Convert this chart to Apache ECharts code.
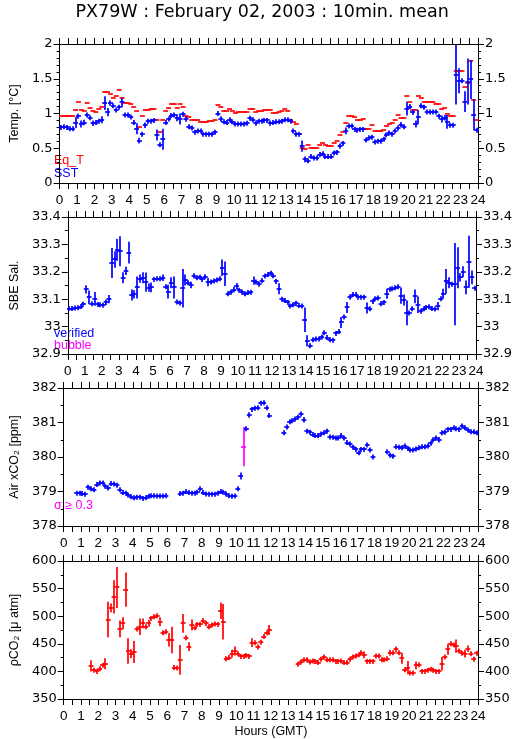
<!DOCTYPE html>
<html><head><meta charset="utf-8">
<script src="https://cdn.jsdelivr.net/npm/echarts/dist/echarts.min.js"></script>
<style>html,body{margin:0;padding:0;background:#fff}#c{width:515px;height:739px}</style>
</head><body><div id="c"></div>
<script>
// 10-minute bins, index k covers hours [k/6, (k+1)/6]
const hourLabels = ['0','1','2','3','4','5','6','7','8','9','10','11','12','13','14','15','16','17','18','19','20','21','22','23','24'];

const eqT = [
0.96,0.96,0.96,0.96,0.96,1.05,1.16,1.05,1.04,1.15,
1.08,1.03,1.02,1.07,1.10,1.31,1.31,1.28,1.22,1.25,
1.34,1.22,1.15,1.15,1.14,1.10,1.04,0.81,0.96,1.05,
1.05,1.06,1.06,0.90,0.74,0.90,1.04,1.08,1.14,1.13,
1.08,1.14,1.09,0.97,0.95,0.91,0.91,0.91,0.88,0.88,
0.88,0.89,0.89,0.90,1.12,1.10,1.03,1.03,1.06,1.04,
1.01,1.02,1.02,1.02,1.02,1.07,1.07,1.02,1.03,1.04,
1.05,1.05,1.05,1.01,1.01,1.02,1.04,1.06,1.04,0.91,
0.88,0.85,0.70,0.51,0.49,0.54,0.51,0.51,0.51,0.54,
0.58,0.55,0.53,0.53,0.57,0.60,0.69,0.73,0.86,0.96,
0.96,0.95,0.91,0.91,0.92,0.78,0.78,0.83,0.75,0.75,
0.75,0.76,0.82,0.85,0.86,0.91,0.98,0.94,0.94,1.25,
1.17,1.05,1.05,1.25,1.23,1.17,1.16,1.17,1.17,1.13,
1.13,1.07,1.08,1.00,0.96,0.96,1.61,1.61,1.61,1.38,
1.44,1.75,1.20,0.91];

const sst = [
0.80,0.81,0.80,0.78,0.78,0.87,0.96,0.85,0.87,0.98,
0.94,0.86,0.87,0.89,0.91,1.15,1.02,1.15,1.11,1.05,
1.09,1.16,0.98,0.98,0.95,0.87,0.78,0.61,0.70,0.83,
0.89,0.89,0.90,0.69,0.55,0.63,0.87,0.92,0.97,0.98,
0.94,0.92,0.99,0.92,0.81,0.79,0.73,0.75,0.75,0.70,
0.70,0.70,0.70,0.73,1.00,0.92,0.88,0.87,0.91,0.88,
0.85,0.85,0.85,0.85,0.86,0.93,0.91,0.86,0.89,0.89,
0.90,0.90,0.86,0.87,0.88,0.88,0.89,0.91,0.91,0.89,
0.75,0.70,0.70,0.53,0.34,0.32,0.38,0.36,0.36,0.41,
0.42,0.38,0.38,0.38,0.43,0.44,0.53,0.57,0.75,0.82,
0.82,0.77,0.76,0.77,0.77,0.62,0.65,0.66,0.59,0.60,
0.60,0.63,0.69,0.72,0.70,0.75,0.79,0.84,0.81,1.07,
1.10,1.02,0.85,0.95,1.11,1.09,1.02,1.02,1.02,1.02,
0.96,0.92,0.94,0.88,0.83,0.83,1.56,1.47,1.47,1.17,
1.46,1.49,0.98,0.76];

const sstSd = [
0.005,0.005,0.005,0.005,0.005,0.08,0.01,0.05,0.04,0.01,
0.01,0.04,0.01,0.01,0.05,0.10,0.06,0.04,0.03,0.01,
0.03,0.07,0.01,0.01,0.01,0.01,0.08,0.04,0.01,0.04,
0.01,0.01,0.01,0.08,0.03,0.15,0.01,0.01,0.01,0.01,
0.05,0.08,0.01,0.04,0.01,0.01,0.01,0.01,0.01,0.01,
0.005,0.005,0.005,0.03,0.03,0.04,0.01,0.01,0.01,0.01,
0.005,0.005,0.005,0.005,0.01,0.01,0.01,0.03,0.01,0.01,
0.01,0.01,0.01,0.01,0.01,0.01,0.01,0.01,0.01,0.03,
0.03,0.02,0.01,0.08,0.04,0.01,0.01,0.01,0.01,0.02,
0.02,0.01,0.005,0.005,0.01,0.01,0.03,0.03,0.05,0.01,
0.01,0.01,0.01,0.01,0.03,0.02,0.01,0.03,0.01,0.01,
0.01,0.01,0.02,0.02,0.01,0.01,0.02,0.01,0.01,0.10,
0.03,0.04,0.05,0.10,0.03,0.01,0.01,0.01,0.01,0.01,
0.03,0.05,0.04,0.10,0.01,0.01,0.43,0.18,0.02,0.15,
0.33,0.28,0.22,0.02];

const sal = [
33.066,33.066,33.068,33.069,33.073,33.082,33.136,33.107,33.083,33.101,
33.081,33.080,33.078,33.089,33.100,33.232,33.245,33.280,33.275,33.178,
33.203,33.270,33.115,33.118,33.143,33.175,33.178,33.162,33.142,33.143,
33.172,33.175,33.175,33.178,33.145,33.128,33.160,33.143,33.090,33.086,
33.140,33.170,33.160,33.152,33.186,33.178,33.180,33.172,33.182,33.162,
33.163,33.166,33.170,33.175,33.215,33.193,33.120,33.125,33.135,33.147,
33.133,33.125,33.120,33.124,33.125,33.168,33.163,33.155,33.168,33.185,
33.190,33.195,33.186,33.165,33.138,33.100,33.095,33.088,33.075,33.080,
33.085,33.077,33.075,33.025,32.948,32.930,32.952,32.955,32.955,32.962,
32.978,32.960,32.952,32.950,32.975,32.982,33.015,33.035,33.070,33.108,
33.117,33.117,33.107,33.107,33.107,33.068,33.065,33.092,33.102,33.104,
33.083,33.088,33.120,33.136,33.138,33.142,33.145,33.113,33.097,33.050,
33.050,33.065,33.110,33.080,33.056,33.065,33.070,33.072,33.066,33.064,
33.075,33.102,33.120,33.165,33.160,33.155,33.155,33.215,33.180,33.200,
33.143,33.237,33.180,33.140];

const salSd = [
0.003,0.003,0.003,0.003,0.003,0.005,0.015,0.025,0.004,0.025,
0.004,0.004,0.004,0.010,0.015,0.055,0.030,0.040,0.055,0.020,
0.015,0.040,0.020,0.015,0.040,0.015,0.020,0.035,0.015,0.018,
0.004,0.004,0.004,0.012,0.004,0.025,0.020,0.040,0.004,0.004,
0.070,0.020,0.004,0.012,0.004,0.004,0.004,0.004,0.004,0.015,
0.004,0.004,0.004,0.004,0.030,0.045,0.004,0.004,0.010,0.012,
0.004,0.004,0.004,0.004,0.004,0.015,0.004,0.004,0.004,0.004,
0.004,0.004,0.004,0.004,0.020,0.004,0.004,0.004,0.004,0.004,
0.004,0.004,0.004,0.045,0.020,0.004,0.004,0.004,0.004,0.004,
0.004,0.004,0.004,0.004,0.004,0.004,0.020,0.004,0.020,0.004,
0.004,0.004,0.004,0.004,0.004,0.020,0.004,0.004,0.004,0.004,
0.004,0.004,0.018,0.004,0.004,0.004,0.004,0.030,0.020,0.045,
0.004,0.004,0.025,0.030,0.004,0.004,0.004,0.004,0.004,0.004,
0.015,0.004,0.018,0.045,0.020,0.004,0.150,0.075,0.015,0.020,
0.025,0.095,0.025,0.004];

const xco2 = [
null,null,null,null,378.95,378.95,378.94,378.92,379.12,379.08,
379.05,379.20,379.25,379.25,379.15,379.10,379.23,379.22,379.18,379.05,
378.97,378.95,378.90,378.85,378.82,378.83,378.83,378.80,378.82,378.86,
378.88,378.88,378.87,378.87,378.87,378.88,null,null,null,null,
378.94,378.95,379.00,378.97,378.95,378.95,378.98,379.08,378.97,378.93,
378.92,378.92,378.92,378.95,379.00,378.98,378.93,378.88,378.86,378.87,
379.08,379.45,380.30,380.82,381.22,381.38,381.41,381.43,381.56,381.57,
381.43,381.20,null,null,null,null,380.70,380.87,381.02,381.05,
381.10,381.15,381.25,381.08,380.75,380.72,380.65,380.62,380.62,380.67,
380.70,380.75,380.58,380.57,380.55,380.55,380.62,380.55,380.42,380.38,
380.28,380.22,380.12,380.22,380.22,380.35,380.20,380.00,null,null,
null,null,380.15,380.05,380.02,380.30,380.28,380.27,380.32,380.25,
380.20,380.20,380.23,380.27,380.30,380.30,380.32,380.40,380.50,380.55,
380.50,380.70,380.72,380.80,380.80,380.85,380.82,380.80,380.90,380.85,
380.78,380.73,380.73,380.70];

const xco2Sd = [
0,0,0,0,0.015,0.015,0.015,0.015,0.04,0.015,
0.015,0.03,0.015,0.015,0.04,0.015,0.03,0.015,0.015,0.03,
0.015,0.015,0.015,0.015,0.015,0.015,0.015,0.03,0.015,0.015,
0.015,0.015,0.015,0.015,0.015,0.015,0,0,0,0,
0.015,0.015,0.03,0.015,0.015,0.015,0.015,0.04,0.015,0.015,
0.015,0.015,0.015,0.015,0.03,0.015,0.015,0.015,0.015,0.015,
0.06,0.10,0.57,0.07,0.08,0.015,0.015,0.015,0.015,0.015,
0.015,0.07,0,0,0,0,0.015,0.05,0.015,0.015,
0.015,0.015,0.015,0.08,0.015,0.015,0.015,0.015,0.05,0.015,
0.05,0.015,0.015,0.015,0.015,0.015,0.04,0.015,0.015,0.05,
0.015,0.015,0.015,0.07,0.05,0.04,0.06,0.015,0,0,
0,0,0.015,0.015,0.015,0.07,0.015,0.015,0.015,0.03,
0.015,0.015,0.015,0.015,0.015,0.015,0.015,0.015,0.015,0.06,
0.08,0.015,0.015,0.015,0.015,0.015,0.015,0.015,0.05,0.015,
0.015,0.015,0.015,0.015];

const pco2 = [
null,null,null,null,null,null,null,null,null,410,
402,400,405,411,414,494,515,535,552,477,
487,548,437,432,435,477,481,487,481,487,
496,499,501,490,470,472,457,457,407,406,
421,487,461,445,484,479,485,485,492,487,
481,484,486,485,510,490,423,425,432,437,
432,427,427,429,427,452,452,444,453,463,
470,475,null,null,null,null,null,null,null,null,
null,413,417,421,421,417,419,418,416,422,
426,421,421,421,418,418,419,416,416,422,
426,428,430,434,430,418,418,418,428,428,
421,421,423,434,434,440,434,424,403,407,
397,397,411,412,400,400,402,404,402,400,
400,414,426,440,450,448,446,437,433,432,
441,432,422,433];

const pco2Sd = [
0,0,0,0,0,0,0,0,0,10,
2,2,2,2,10,32,8,30,37,15,
11,31,23,8,20,2,15,9,2,6,
2,2,2,8,2,2,12,24,2,2,
27,17,2,8,10,2,2,2,2,2,
2,2,2,2,15,32,2,2,7,8,
2,2,2,2,2,8,2,4,2,2,
2,9,0,0,0,0,0,0,0,0,
0,2,2,2,4,2,2,2,2,2,
2,2,2,2,2,2,2,2,2,2,
2,2,2,4,6,2,2,2,2,2,
2,2,2,5,2,5,2,10,2,12,
2,2,7,2,2,2,2,2,2,2,
2,12,2,10,2,2,12,2,2,7,
6,4,4,2];

// ---------- helpers ----------
function pts(vals, sds) {
  const out = [];
  vals.forEach((v, k) => { if (v != null) out.push([(k + 0.5) / 6, v, sds ? sds[k] : 0]); });
  return out;
}
function render(color, flagColor, flagMin, vertical) {
  return function (params, api) {
    const t = api.value(0), v = api.value(1), e = api.value(2);
    const c = api.coord([t, v]);
    const a = api.coord([t - 1 / 12, v]);
    const b = api.coord([t + 1 / 12, v]);
    const col = (flagMin != null && e >= flagMin) ? flagColor : color;
    const y0 = Math.round(c[1]);
    const ch = [{ type: 'line', shape: { x1: a[0] - 1, y1: y0, x2: b[0] + 1, y2: y0 },
      style: { stroke: col, lineWidth: 1.7 } }];
    if (vertical) {
      const hi = api.coord([t, v + e]), lo = api.coord([t, v - e]);
      const y1 = Math.min(hi[1], c[1] - 2.5), y2 = Math.max(lo[1], c[1] + 2.5);
      const xc = Math.round(c[0]);
      ch.push({ type: 'line', shape: { x1: xc, y1: y1, x2: xc, y2: y2 },
        style: { stroke: col, lineWidth: 1.7 } });
    }
    return { type: 'group', children: ch };
  };
}

const XTICKF = 'Liberation Sans';
const YTICKF = 'DejaVu Sans';
const NAMEF = 'Liberation Sans';
const grids = [
  { top: 44, height: 139 }, { top: 217, height: 137 }, { top: 388, height: 138 }, { top: 561, height: 138 }
];
const yCfg = [
  { min: 0, max: 2, interval: 0.5, minor: 5, name: 'Temp. [°C]', gap: 31 },
  { min: 32.9, max: 33.4, interval: 0.1, minor: 2, name: 'SBE Sal.', gap: 39 },
  { min: 378, max: 382, interval: 1, minor: 2, name: 'Air xCO₂ [ppm]', gap: 35 },
  { min: 350, max: 600, interval: 50, minor: 2, name: 'ρCO₂ [μ atm]', gap: 33 }
];
const black = { color: '#000', width: 1 };
const xAxes = [], yAxes = [];
grids.forEach((g, i) => {
  const base = {
    type: 'value', gridIndex: i, min: 0, max: 24, interval: 1,
    axisLine: { show: true, onZero: false, lineStyle: black },
    axisTick: { show: true, length: 6, lineStyle: black },
    minorTick: { show: true, splitNumber: 2, length: 6, lineStyle: black },
    splitLine: { show: false }, minorSplitLine: { show: false }
  };
  xAxes.push(Object.assign({}, base, { position: 'bottom',
    axisLabel: { show: true, fontFamily: XTICKF, fontSize: 13.5, color: '#000', margin: 10,
      formatter: v => hourLabels[Math.round(v)] },
    name: i === 3 ? 'Hours (GMT)' : '', nameLocation: 'middle', nameGap: 26,
    nameTextStyle: { fontFamily: XTICKF, fontSize: 12.5, color: '#000' } }));
  xAxes.push(Object.assign({}, base, { position: 'top', axisLabel: { show: false } }));
  const y = yCfg[i];
  const ybase = {
    type: 'value', gridIndex: i, min: y.min, max: y.max, interval: y.interval,
    axisLine: { show: true, onZero: false, lineStyle: black },
    axisTick: { show: true, length: 6, lineStyle: black },
    minorTick: { show: true, splitNumber: y.minor, length: 3, lineStyle: black },
    splitLine: { show: false }, minorSplitLine: { show: false },
    axisLabel: { show: true, fontFamily: YTICKF, fontSize: 13, color: '#000', margin: 7 }
  };
  yAxes.push(Object.assign({}, ybase, { position: 'left', name: y.name, nameLocation: 'middle',
    nameGap: y.gap, nameRotate: 90, nameTextStyle: { fontFamily: NAMEF, fontSize: 12.5, color: '#000' } }));
  yAxes.push(Object.assign({}, ybase, { position: 'right' }));
});

function cs(i, data, rend) {
  return { type: 'custom', xAxisIndex: 2 * i, yAxisIndex: 2 * i, data: data, renderItem: rend,
    clip: true, encode: { x: 0, y: 1 }, silent: true, animation: false };
}

const chart = echarts.init(document.getElementById('c'), null, { renderer: 'canvas' });
chart.setOption({
  animation: false,
  backgroundColor: '#fff',
  grid: grids.map(g => ({ left: 51, right: 37, top: g.top, height: g.height })),
  xAxis: xAxes,
  yAxis: yAxes,
  series: [
    cs(0, pts(eqT, null), render('#ff0000', null, null, false)),
    cs(0, pts(sst, sstSd), render('#0000ff', null, null, true)),
    cs(1, pts(sal, salSd), render('#0000ff', null, null, true)),
    cs(2, pts(xco2, xco2Sd), render('#0000ff', '#ff00ff', 0.3, true)),
    cs(3, pts(pco2, pco2Sd), render('#ff0000', null, null, true))
  ],
  graphic: [
    { type: 'text', left: 264.5 - 189, top: 3, style: { text: 'PX79W : February 02, 2003 : 10min. mean',
      fill: '#000', font: '17.5px "DejaVu Sans"' } },
    { type: 'text', left: 54, top: 154, style: { text: 'Eq_T', fill: '#ff0000', font: '12.5px "Liberation Sans"' } },
    { type: 'text', left: 54, top: 167, style: { text: 'SST', fill: '#0000ff', font: '12.5px "Liberation Sans"' } },
    { type: 'text', left: 54, top: 327, style: { text: 'verified', fill: '#0000ff', font: '12.5px "Liberation Sans"' } },
    { type: 'text', left: 54, top: 339, style: { text: 'bubble', fill: '#ff00ff', font: '12.5px "Liberation Sans"' } },
    { type: 'text', left: 54, top: 499, style: { text: 'σ ≥ 0.3', fill: '#ff00ff', font: '12.5px "Liberation Sans"' } }
  ]
});
</script></body></html>
